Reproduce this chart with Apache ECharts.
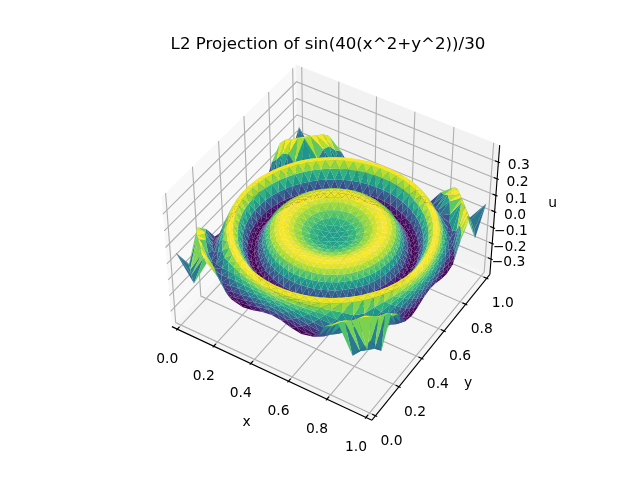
<!DOCTYPE html>
<html><head><meta charset="utf-8">
<script src="https://cdn.jsdelivr.net/npm/echarts@6/dist/echarts.min.js"></script>
<style>html,body{margin:0;padding:0;background:#fff}#c{width:640px;height:480px}</style></head>
<body><div id="c"></div>
<script>
const titleText = 'L2 Projection of sin(40(x^2+y^2))/30';
const xTicks = [0, 0.2, 0.4, 0.6, 0.8, 1.0];
const yTicks = [0, 0.2, 0.4, 0.6, 0.8, 1.0];
const zTicks = [-0.3, -0.2, -0.1, 0, 0.1, 0.2, 0.3];
const xLim = [-0.03, 1.03];
const yLim = [-0.03, 1.03];
const zLim = [-0.40, 0.40];
const colorRange = [-0.08, 0.07];
// circular rings around the centre (0.5, 0.5): radius, node count, height
const ringRadius = [0, .035, .07, .105, .14, .175, .197, .22, .24, .26, .28, .30, .315, .335, .352, .368, .385, .405, .425, .445, .46, .472];
const ringCount  = [1, 6, 12, 18, 24, 30, 36, 42, 48, 54, 60, 64, 64, 64, 64, 64, 64, 64, 64, 64, 64, 64];
const ringU = [0, .003, .010, .022, .038, .054, .063, .069, .068, .059, .042, .016, -.019, -.054, -.079, -.082, -.061, -.016, .032, .066, .073, .060];
// outer rings, from the last circle out to the square edge; one octant of heights (mirrored round the square)
const outerU = [
  [.051, .049, .047, .043, .038, .032, .022, .005],
  [.040, .039, .036, .030, .023, .012, -.005, -.030, -.050],
  [.028, .023, .015, .008, -.005, -.022, -.045, -.050],
  [.015, .012, .004, -.012, -.025, -.045, -.062, -.026, .090],
  [0, -.010, -.026, -.045, -.060, -.060, .030, .090],
  [-.018, -.026, -.042, -.060, -.075, -.070, .045, .085, -.060],
  [-.040, -.055, -.072, -.085, -.075, .020, .090, -.060],
  [-.060, -.068, -.085, -.095, -.080, .015, .080, -.085, .060]
];
const viridis = ['#440154','#482878','#3e4989','#31688e','#26828e','#1f9e89','#35b779','#6ece58','#b5de2b','#fde725'];

// ---- camera (box 4:4:3) ----
const elev = 43.5*Math.PI/180, azim = -58*Math.PI/180, camDist = 10;
const k = 1.8294640721620434*25/24/Math.sqrt(41);
const box = [4*k, 4*k, 3*k];
const R = box.map(v => v/2);
const W = [Math.cos(elev)*Math.cos(azim), Math.cos(elev)*Math.sin(azim), Math.sin(elev)];
const E = R.map((v,i) => v + camDist*W[i]);
const nU = Math.hypot(W[1], W[0]);
const U = [-W[1]/nU, W[0]/nU, 0];
const V = [W[1]*U[2]-W[2]*U[1], W[2]*U[0]-W[0]*U[2], W[0]*U[1]-W[1]*U[0]];
const dot = (a,b) => a[0]*b[0]+a[1]*b[1]+a[2]*b[2];
const lim2 = [-0.095, 0.09];
const axSize = 369.6, axLeft = 328-axSize/2, axTop = 57.6;
function project(x,y,z){
  const P = [(x-xLim[0])/(xLim[1]-xLim[0])*box[0]-E[0], (y-yLim[0])/(yLim[1]-yLim[0])*box[1]-E[1], (z-zLim[0])/(zLim[1]-zLim[0])*box[2]-E[2]];
  const d = dot(P,W);
  const sx = dot(P,U)/(-d), sy = dot(P,V)/(-d);
  return {px: axLeft+(sx-lim2[0])/(lim2[1]-lim2[0])*axSize, py: axTop+axSize-(sy-lim2[0])/(lim2[1]-lim2[0])*axSize, d};
}
const p2 = (x,y,z)=>{const p=project(x,y,z);return [p.px,p.py];};

// ---- mesh nodes ----
const rings = [];
ringRadius.forEach((r,i)=>{
  const n = ringCount[i], off = (i%2)*0.5, ring = {n, off, nodes:[]};
  for(let a=0;a<n;a++){
    const th=(a+off)/n*2*Math.PI;
    ring.nodes.push([0.5+r*Math.cos(th),0.5+r*Math.sin(th),ringU[i]]);
  }
  rings.push(ring);
});
const lastR = ringRadius[ringRadius.length-1];
outerU.forEach((row,t0)=>{
  const t=t0+1, odd=t%2, N=64, ring={n:N, off:odd*0.5, nodes:[]};
  for(let a=0;a<N;a++){
    const h=2*a+odd, th=h*Math.PI/64;
    const sq=0.5/Math.max(Math.abs(Math.cos(th)),Math.abs(Math.sin(th)));
    const rho=lastR+t/outerU.length*(sq-lastR);
    let f=h%32; if(f>16) f=32-f;
    ring.nodes.push([0.5+rho*Math.cos(th),0.5+rho*Math.sin(th),row[Math.floor(f/2)]]);
  }
  rings.push(ring);
});
// ---- triangles between neighbouring rings ----
const tris=[];
function addTri(a,b,c){ if(a===b||b===c||a===c) return; tris.push([a,b,c]); }
for(let r=0;r<rings.length-1;r++){
  const A=rings[r],B=rings[r+1]; let i=0,j=0;
  while(i<A.n||j<B.n){
    const na=(i+1+A.off)/A.n, nb=(j+1+B.off)/B.n;
    if(i<A.n&&(j>=B.n||na<=nb)){ addTri(A.nodes[i],A.nodes[(i+1)%A.n],B.nodes[j%B.n]); i++; }
    else { addTri(A.nodes[i%A.n],B.nodes[j],B.nodes[(j+1)%B.n]); j++; }
  }
}
const [lo,hi]=colorRange;
const triData=tris.map(t=>{
  const m=(t[0][2]+t[1][2]+t[2][2])/3;
  const ps=t.map(n=>project(n[0],n[1],n[2]));
  return {m,ps,d:(ps[0].d+ps[1].d+ps[2].d)/3};
}).sort((a,b)=>a.d-b.d).map(o=>[o.ps[0].px,o.ps[0].py,o.ps[1].px,o.ps[1].py,o.ps[2].px,o.ps[2].py,Math.min(1,Math.max(0,(o.m-lo)/(hi-lo)))]);

// ---- box: panes, grid, axes ----
const [x0,x1]=xLim,[y0,y1]=yLim,[z0,z1]=zLim;
const paneData=[
  [...p2(x0,y0,z0),...p2(x0,y1,z0),...p2(x0,y1,z1),...p2(x0,y0,z1),0],
  [...p2(x0,y1,z0),...p2(x1,y1,z0),...p2(x1,y1,z1),...p2(x0,y1,z1),1],
  [...p2(x0,y0,z0),...p2(x1,y0,z0),...p2(x1,y1,z0),...p2(x0,y1,z0),2]
];
const paneFill=['rgba(242,242,242,0.5)','rgba(230,230,230,0.5)','rgba(236,236,236,0.5)'];
const gridData=[];
xTicks.forEach(t=>gridData.push([...p2(t,y0,z0),...p2(t,y1,z0),...p2(t,y1,z1)]));
yTicks.forEach(t=>gridData.push([...p2(x1,t,z0),...p2(x0,t,z0),...p2(x0,t,z1)]));
zTicks.forEach(t=>gridData.push([...p2(x0,y0,t),...p2(x0,y1,t),...p2(x1,y1,t)]));
const dx=(x1-x0)/12.5, dy=(y1-y0)/12.5;
const segData=[
  [...p2(x0,y0,z0),...p2(x1,y0,z0)],
  [...p2(x1,y0,z0),...p2(x1,y1,z0)],
  [...p2(x1,y1,z0),...p2(x1,y1,z1)]
];
xTicks.forEach(t=>segData.push([...p2(t,y0-dy*0.1,z0),...p2(t,y0+dy*0.2,z0)]));
yTicks.forEach(t=>segData.push([...p2(x1+dx*0.1,t,z0),...p2(x1-dx*0.2,t,z0)]));
zTicks.forEach(t=>segData.push([...p2(x1+dx*0.1,y1,t),...p2(x1-dx*0.2,y1,t)]));
const fmt=v=>(v<0?'\u2212':'')+Math.abs(v).toFixed(1);
const labels=[];const textData=[];
function addLabel(s,p,ox,oy){labels.push(s);textData.push([p[0]+ox,p[1]+oy,labels.length-1]);}
xTicks.forEach(t=>addLabel(fmt(t),p2(t,y0,z0),-10,30));
yTicks.forEach(t=>addLabel(fmt(t),p2(x1,t,z0),16,25.5));
zTicks.forEach(t=>addLabel(fmt(t),p2(x1,y1,t),t<0?17.5:20.5,3.5));
addLabel('x',p2(0.5,y0,z0),-23,50);
addLabel('y',p2(x1,0.5,z0),35,39);
addLabel('u',p2(x1,y1,0),58,-8);

const poly=(n,style)=>function(params,api){
  const pts=[];for(let i=0;i<n;i++) pts.push(api.coord([api.value(2*i),api.value(2*i+1)]));
  return style(pts,api);
};
const base={type:'custom',silent:true,animation:false,clip:false,progressive:0,coordinateSystem:'cartesian2d'};
const option={
  animation:false,
  title:{text:titleText,left:323,top:30,textAlign:'center',textStyle:{fontFamily:'DejaVu Sans',fontSize:16.67,fontWeight:'normal',color:'#000',lineHeight:20}},
  grid:{left:0,right:0,top:0,bottom:0},
  xAxis:{type:'value',min:0,max:640,show:false},
  yAxis:{type:'value',min:0,max:480,inverse:true,show:false},
  series:[
    {...base,z:1,data:paneData,renderItem:poly(4,(pts,api)=>({type:'polygon',shape:{points:pts},style:{fill:paneFill[api.value(8)],stroke:null}}))},
    {...base,z:2,data:gridData,renderItem:poly(3,pts=>({type:'polyline',shape:{points:pts},style:{fill:null,stroke:'rgb(176,176,176)',lineWidth:1.11}}))},
    {...base,z:3,data:segData,renderItem:poly(2,pts=>({type:'line',shape:{x1:pts[0][0],y1:pts[0][1],x2:pts[1][0],y2:pts[1][1]},style:{stroke:'#000',lineWidth:1.11}}))},
    {...base,z:4,data:triData,renderItem:poly(3,(pts,api)=>({type:'polygon',shape:{points:pts},style:{fill:echarts.color.lerp(api.value(6),viridis),stroke:null}}))},
    {...base,z:5,data:textData,renderItem:(params,api)=>{const c=api.coord([api.value(0),api.value(1)]);
      return {type:'text',x:c[0],y:c[1],style:{text:labels[api.value(2)],fill:'#000',font:'13.89px "DejaVu Sans"',textAlign:'center',textVerticalAlign:'middle'}};}}
  ]
};
const chart=echarts.init(document.getElementById('c'),null,{renderer:'canvas'});
chart.setOption(option);
</script></body></html>
